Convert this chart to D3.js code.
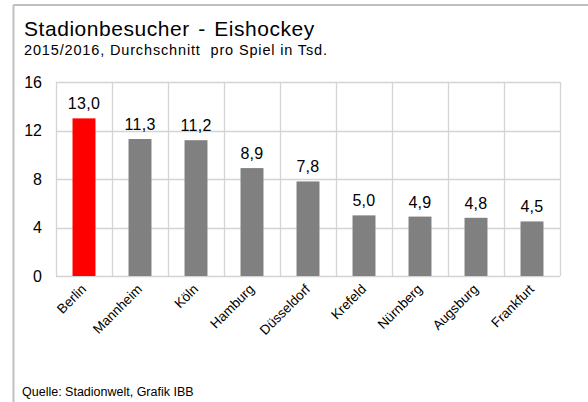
<!DOCTYPE html>
<html><head><meta charset="utf-8">
<script src="https://cdn.jsdelivr.net/npm/d3@7"></script>
<style>
html,body{margin:0;padding:0;background:#fff;}
svg{display:block;font-family:"Liberation Sans",Arial,sans-serif;}
text{white-space:pre;}
</style></head>
<body>
<script>
const categories = ["Berlin","Mannheim","Köln","Hamburg","Düsseldorf","Krefeld","Nürnberg","Augsburg","Frankfurt"];
const values = [13.0,11.3,11.2,8.9,7.8,5.0,4.9,4.8,4.5];
const yTicks = [0,4,8,12,16];
const highlight = ["Berlin"];

const W=588,H=402;
const svg=d3.select("body").append("svg").attr("width",W).attr("height",H);

// frame (top and left lines)
svg.append("line").attr("x1",13.5).attr("x2",W).attr("y1",5).attr("y2",5).attr("stroke","#bfbfbf").attr("stroke-width",2);
svg.append("line").attr("x1",13.5).attr("x2",13.5).attr("y1",5).attr("y2",H).attr("stroke","#bfbfbf").attr("stroke-width",2);

svg.append("text").attr("x",24).attr("y",36).attr("font-size",21).attr("letter-spacing",0.55).attr("word-spacing",2).attr("fill","#000").text("Stadionbesucher - Eishockey");
svg.append("text").attr("x",24).attr("y",55).attr("font-size",14.5).attr("letter-spacing",0.85).attr("fill","#000").text("2015/2016, Durchschnitt  pro Spiel in Tsd.");
svg.append("text").attr("x",22).attr("y",396).attr("font-size",12.5).attr("fill","#000").text("Quelle: Stadionwelt, Grafik IBB");

const x=d3.scaleBand().domain(categories).range([56,560]).paddingInner(0).paddingOuter(0);
const y=d3.scaleLinear().domain([0,16]).range([276,82]);
const barW=x.bandwidth()*0.41;

const g=svg.append("g");
// horizontal gridlines
g.selectAll("line.h").data(yTicks).join("line")
 .attr("x1",56).attr("x2",560).attr("y1",d=>Math.round(y(d))+0.5).attr("y2",d=>Math.round(y(d))+0.5)
 .attr("stroke","#d4d4d4").attr("stroke-width",1.3);
// vertical gridlines at band boundaries
const bounds=categories.map(c=>x(c)).concat([x.range()[1]]);
g.selectAll("line.v").data(bounds).join("line")
 .attr("x1",d=>Math.round(d)+0.5).attr("x2",d=>Math.round(d)+0.5).attr("y1",y(16)).attr("y2",y(0))
 .attr("stroke","#d4d4d4").attr("stroke-width",1.3);

// bars
g.selectAll("rect.bar").data(categories).join("rect")
 .attr("x",(c)=>x(c)+(x.bandwidth()-barW)/2)
 .attr("width",barW)
 .attr("y",(c,i)=>y(values[i]))
 .attr("height",(c,i)=>y(0)-y(values[i]))
 .attr("fill",c=>highlight.includes(c)?"#ff0000":"#808080");

// data labels
g.selectAll("text.val").data(categories).join("text")
 .attr("x",c=>x(c)+x.bandwidth()/2)
 .attr("y",(c,i)=>y(values[i])-9)
 .attr("text-anchor","middle").attr("font-size",16).attr("letter-spacing",0.3).attr("fill","#000")
 .text((c,i)=>d3.format(".1f")(values[i]).replace(".",","));

// y axis labels
const yAxis=d3.axisLeft(y).tickValues(yTicks).tickSize(0).tickPadding(14);
const ya=svg.append("g").attr("transform","translate(56,0)").call(yAxis);
ya.select(".domain").remove();
ya.selectAll("text").attr("font-size",16).attr("fill","#000").attr("font-family","Liberation Sans, Arial, sans-serif");

// x axis labels
const xAxis=d3.axisBottom(x).tickSize(0).tickPadding(0);
const xa=svg.append("g").attr("transform","translate(0,276)").call(xAxis);
xa.select(".domain").remove();
xa.selectAll("text").attr("font-size",13.5).attr("fill","#000").attr("font-family","Liberation Sans, Arial, sans-serif")
 .attr("text-anchor","end").attr("dy",0).attr("y",0)
 .attr("transform","translate(3,14) rotate(-45)");
</script>
</body></html>
